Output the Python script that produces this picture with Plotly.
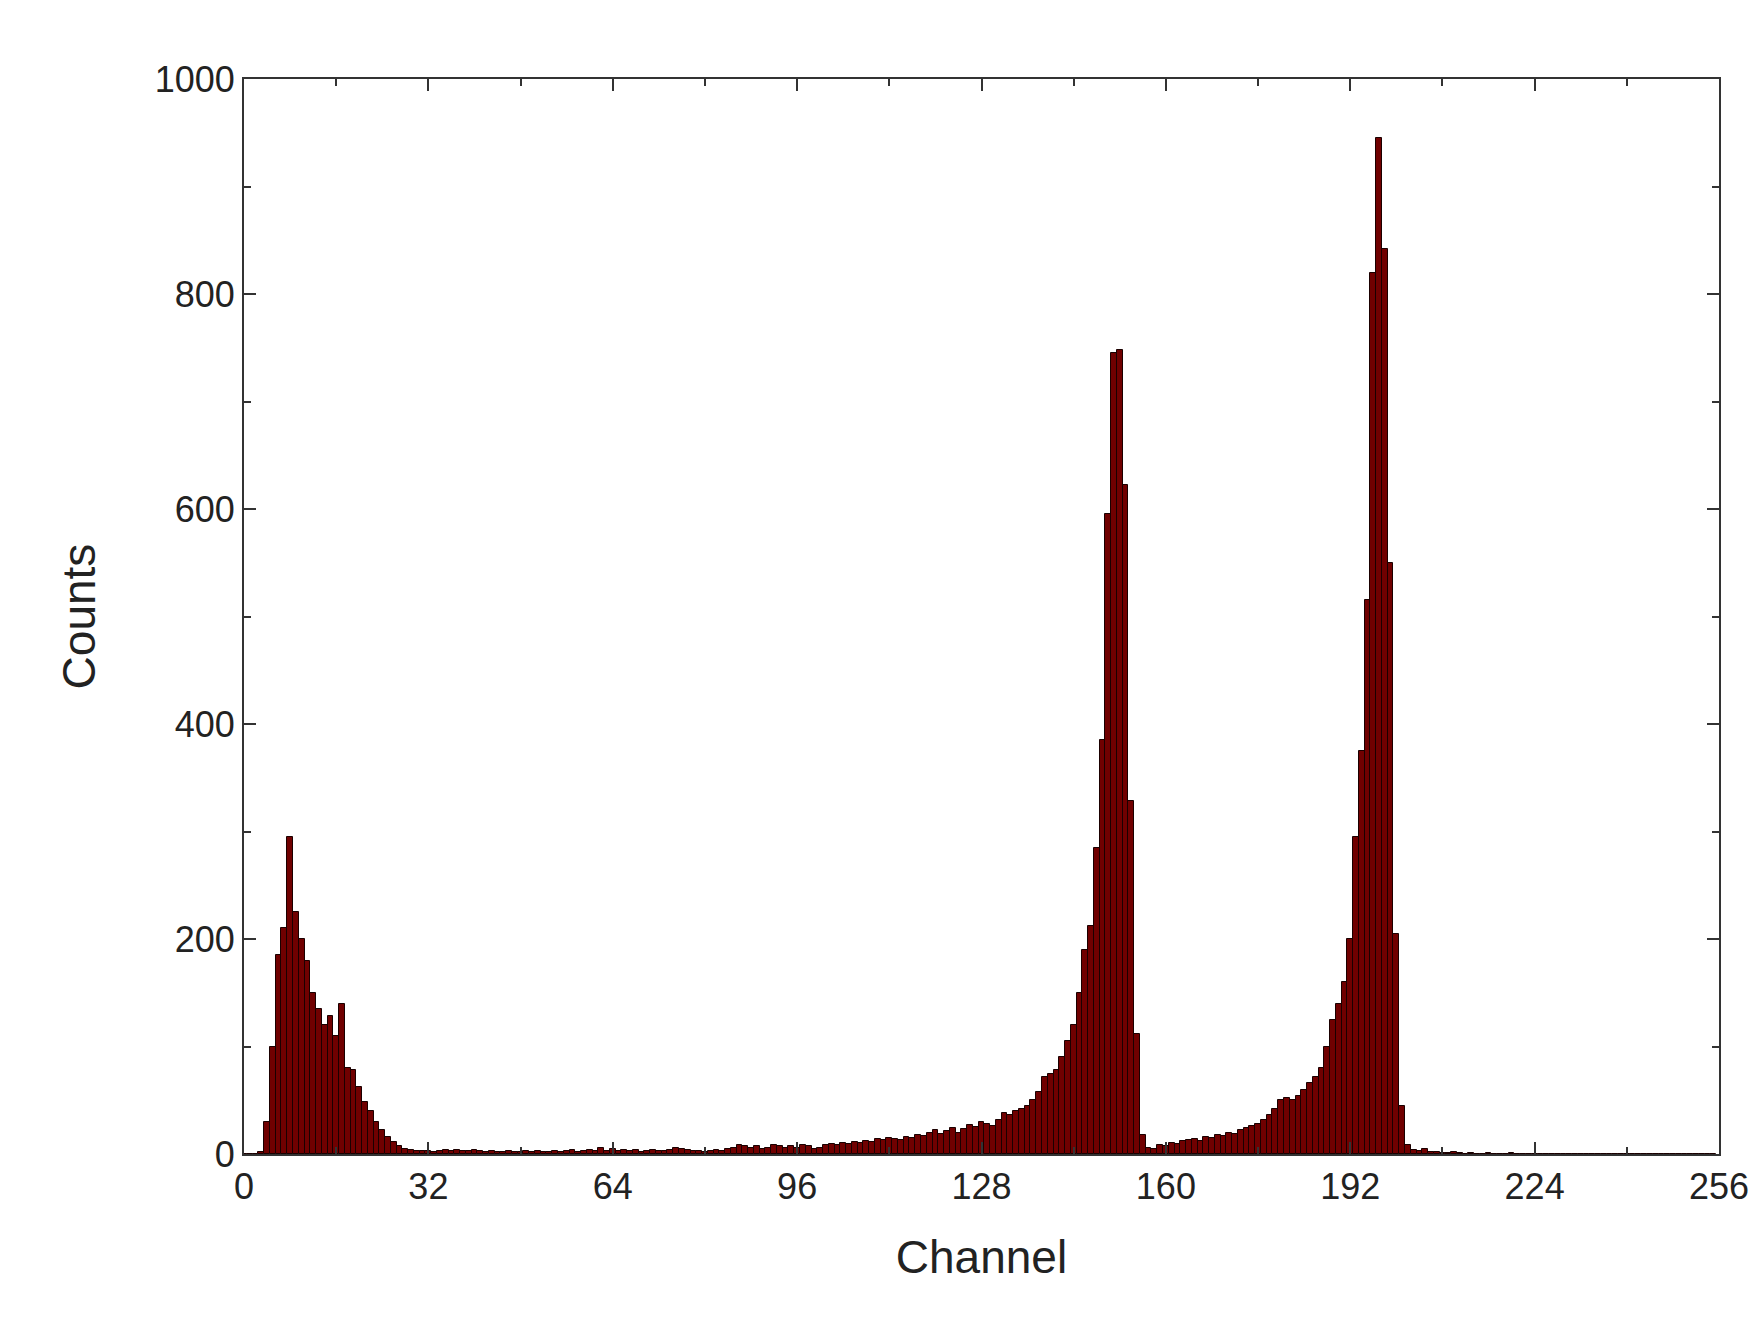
import plotly.graph_objects as go

channels = list(range(256))
counts = [
    0, 0, 0, 2, 30, 100, 185, 210, 295, 225, 200, 180, 150, 135, 120, 128,      # 0-15
    110, 140, 80, 78, 62, 48, 40, 30, 22, 16, 11, 7, 5, 4, 3, 3,              # 16-31
    3, 2, 3, 4, 3, 4, 3, 3, 4, 3, 2, 3, 2, 2, 3, 2,                           # 32-47
    2, 3, 2, 3, 2, 2, 3, 2, 3, 4, 2, 3, 4, 3, 6, 3,                           # 48-63
    5, 3, 4, 3, 4, 2, 3, 4, 3, 3, 4, 6, 5, 4, 3, 3,                           # 64-79
    2, 3, 4, 3, 5, 6, 8, 7, 6, 7, 5, 6, 8, 7, 6, 7,                           # 80-95
    6, 8, 7, 5, 6, 8, 9, 8, 10, 9, 11, 10, 12, 11, 14, 13,                    # 96-111
    15, 14, 13, 16, 15, 18, 17, 20, 22, 19, 21, 24, 20, 23, 27, 25,           # 112-127
    30, 28, 26, 32, 38, 36, 40, 42, 45, 50, 58, 72, 74, 78, 90, 105,          # 128-143
    120, 150, 190, 212, 285, 385, 595, 745, 748, 622, 328, 112, 18, 6, 5, 8,  # 144-159
    7, 10, 9, 12, 13, 14, 12, 16, 15, 18, 17, 20, 19, 22, 24, 26,             # 160-175
    28, 32, 36, 42, 50, 52, 50, 54, 60, 66, 72, 80, 100, 125, 140, 160,       # 176-191
    200, 295, 375, 515, 820, 945, 842, 550, 205, 45, 8, 4, 3, 5, 2, 2,        # 192-207
    1, 1, 2, 1, 0, 1, 0, 0, 1, 0, 0, 0, 1, 0, 0, 0,                           # 208-223
] + [0] * 32

x_ticks = [0, 32, 64, 96, 128, 160, 192, 224, 256]
y_ticks = [0, 200, 400, 600, 800, 1000]

fig = go.Figure(go.Bar(
    x=channels, y=counts, width=1,
    marker=dict(color='#700000', line=dict(color='#1a0000', width=1)),
))

axis_style = dict(
    showline=True, linecolor='#333', linewidth=2, mirror='ticks',
    ticks='inside', ticklen=12, tickwidth=2, tickcolor='#333',
    minor=dict(ticks='inside', ticklen=7, tickwidth=2, tickcolor='#333'),
    showgrid=False, zeroline=False,
    tickfont=dict(size=36, color='#222'),
)

fig.update_xaxes(axis_style, range=[0, 256], tickvals=x_ticks,
                 minor_dtick=16,
                 title=dict(text='Channel', standoff=35,
                            font=dict(size=46, color='#222')))
fig.update_yaxes(axis_style, range=[0, 1000], tickvals=y_ticks,
                 minor_dtick=100,
                 title=dict(text='Counts', standoff=45,
                            font=dict(size=46, color='#222')))

fig.update_layout(
    width=1764, height=1331,
    template='simple_white',
    font=dict(family='Arial, Liberation Sans, sans-serif'),
    bargap=0,
    margin=dict(l=236, r=53, t=71, b=185),
    plot_bgcolor='white', paper_bgcolor='white',
)

fig.write_html("out.html")
